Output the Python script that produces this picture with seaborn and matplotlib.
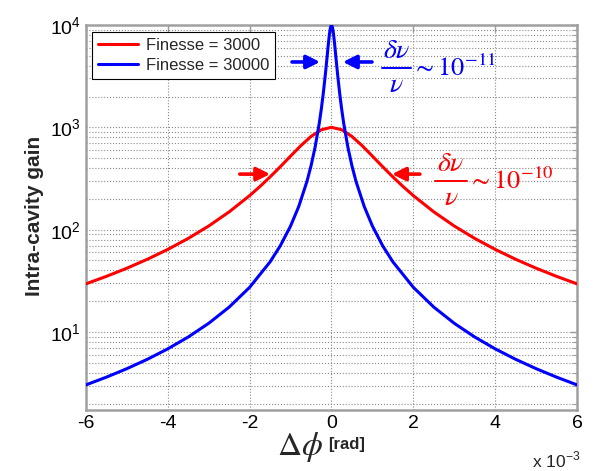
import matplotlib
matplotlib.use('Agg')
import matplotlib.pyplot as plt
import seaborn as sns
import pandas as pd
from matplotlib.lines import Line2D
from matplotlib.ticker import LogLocator, FixedLocator, NullFormatter

# phase detuning in units of 1e-3 rad
x_red = [-6, -5.5, -5, -4.5, -4, -3.5, -3, -2.5, -2, -1.75, -1.5, -1.25, -1, -0.75, -0.5, -0.25, 0,
         0.25, 0.5, 0.75, 1, 1.25, 1.5, 1.75, 2, 2.5, 3, 3.5, 4, 4.5, 5, 5.5, 6]
gain_red = [29.56, 34.98, 42.02, 51.37, 64.14, 82.17, 108.6, 149.3, 215.2, 263.7, 327.7, 412.4, 523.0, 661.0, 814.4, 946.1, 1000,
            946.1, 814.4, 661.0, 523.0, 412.4, 327.7, 263.7, 215.2, 149.3, 108.6, 82.17, 64.14, 51.37, 42.02, 34.98, 29.56]

x_blue = [-6, -5.5, -5, -4.5, -4, -3.5, -3, -2.5, -2, -1.5, -1.25, -1, -0.8, -0.6, -0.5, -0.4, -0.3, -0.25, -0.2,
          -0.15, -0.125, -0.1, -0.075, -0.05, -0.025, 0,
          0.025, 0.05, 0.075, 0.1, 0.125, 0.15, 0.2, 0.25, 0.3, 0.4, 0.5, 0.6, 0.8, 1, 1.25, 1.5, 2, 2.5, 3, 3.5,
          4, 4.5, 5, 5.5, 6]
gain_blue = [3.045, 3.624, 4.385, 5.413, 6.849, 8.944, 12.17, 17.52, 27.34, 48.50, 69.69, 108.5, 168.5, 295.6, 420.2,
             641.4, 1086, 1493, 2152, 3277, 4124, 5230, 6610, 8144, 9461, 10000,
             9461, 8144, 6610, 5230, 4124, 3277, 2152, 1493, 1086, 641.4, 420.2, 295.6, 168.5, 108.5, 69.69, 48.50,
             27.34, 17.52, 12.17, 8.944, 6.849, 5.413, 4.385, 3.624, 3.045]

labels = ['Finesse = 3000', 'Finesse = 30000']
colors = ['#ff0000', '#0000ff']
x_ticks = [-6, -4, -2, 0, 2, 4, 6]
width_labels = [r'$\sim10^{-10}$', r'$\sim10^{-11}$']

W, H = 597, 471

sns.set_style('white')
plt.rcParams['font.family'] = ['Liberation Sans', 'DejaVu Sans']

fig = plt.figure(figsize=(W / 100, H / 100), dpi=100)
ax = fig.add_axes([0.144, 0.1295, 0.8225, 0.8175])

df_red = pd.DataFrame({'dphi': x_red, 'gain': gain_red})
df_blue = pd.DataFrame({'dphi': x_blue, 'gain': gain_blue})
sns.lineplot(data=df_red, x='dphi', y='gain', color=colors[0], linewidth=2.2, label=labels[0], ax=ax, zorder=3)
sns.lineplot(data=df_blue, x='dphi', y='gain', color=colors[1], linewidth=2.2, label=labels[1], ax=ax, zorder=3)

ax.set_yscale('log')
ax.set_xlim(-6, 6)
ax.set_ylim(1.73, 1e4)
ax.xaxis.set_major_locator(FixedLocator(x_ticks))
ax.set_xticklabels([str(t) for t in x_ticks])
ax.yaxis.set_major_locator(LogLocator(base=10, numticks=10))
ax.yaxis.set_minor_locator(LogLocator(base=10, subs=range(2, 10), numticks=20))
ax.yaxis.set_minor_formatter(NullFormatter())

ax.grid(True, which='major', axis='both', linestyle=':', color='#8a8a8a', linewidth=0.8)
ax.grid(True, which='minor', axis='y', linestyle=':', color='#8a8a8a', linewidth=0.8)
ax.tick_params(axis='both', which='both', direction='in', top=True, right=True,
               labelsize=14, colors='#9a9a9a', labelcolor='black')
ax.tick_params(axis='both', which='major', length=5, width=1)
ax.tick_params(axis='both', which='minor', length=3, width=0.8)
for s in ax.spines.values():
    s.set_color('#a0a0a0')
    s.set_linewidth(1.8)
ax.set_xlabel('')
ax.set_ylabel('')
fig.text(35 / W, 1 - 216 / H, 'Intra-cavity gain', fontsize=15, fontweight='bold',
         rotation=90, ha='center', va='center')

leg = ax.legend(loc='upper left', bbox_to_anchor=(0.012, 0.982), borderaxespad=0, fontsize=12,
                handlelength=2.4, frameon=True, fancybox=False, edgecolor='black', framealpha=1,
                borderpad=0.35, labelspacing=0.3, handletextpad=0.5)
leg.get_frame().set_linewidth(0.8)

# linewidth arrows
arrow_kw = dict(arrowstyle='-|>', lw=2.6, mutation_scale=20, shrinkA=0, shrinkB=0)
ax.annotate('', xy=(-0.28, 4350), xytext=(-0.965, 4350), arrowprops=dict(color=colors[1], **arrow_kw))
ax.annotate('', xy=(0.28, 4350), xytext=(0.99, 4350), arrowprops=dict(color=colors[1], **arrow_kw))
ax.annotate('', xy=(-1.50, 349), xytext=(-2.24, 349), arrowprops=dict(color=colors[0], **arrow_kw))
ax.annotate('', xy=(1.48, 349), xytext=(2.16, 349), arrowprops=dict(color=colors[0], **arrow_kw))


def fraction_label(x0, x1, ybar, text, color):
    xc = (x0 + x1) / 2
    fig.text(xc / W, 1 - (ybar - 17) / H, r'$\delta\nu$', fontsize=20, math_fontfamily='stix',
             color=color, ha='center', va='center')
    fig.add_artist(Line2D([x0 / W, x1 / W], [1 - ybar / H, 1 - ybar / H], color=color, lw=1.4))
    fig.text(xc / W, 1 - (ybar + 17) / H, r'$\nu$', fontsize=20, math_fontfamily='stix',
             color=color, ha='center', va='center')
    fig.text((x1 + 1) / W, 1 - (ybar + 8) / H, text, fontsize=19, math_fontfamily='stix',
             color=color, ha='left', va='baseline')


fraction_label(382, 411, 68, width_labels[1], colors[1])
fraction_label(435, 467, 181, width_labels[0], colors[0])

fig.text(300 / W, 1 - 447 / H, r'$\Delta\phi$', fontsize=24, math_fontfamily='stix', ha='center', va='center')
fig.text(328 / W, 1 - 445 / H, '[rad]', fontsize=12, fontweight='bold', ha='left', va='center')
fig.text(532 / W, 1 - 470 / H, r'x 10$^{\mathregular{-3}}$', fontsize=12.5, ha='left', va='bottom')

fig.savefig('out.png', dpi=100)
